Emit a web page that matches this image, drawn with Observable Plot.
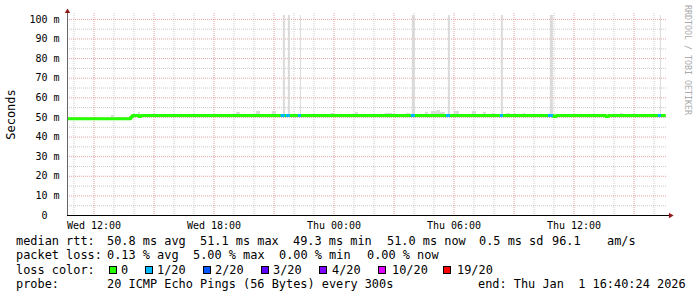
<!DOCTYPE html>
<html>
<head>
<meta charset="utf-8">
<script src="https://cdn.jsdelivr.net/npm/d3@7"></script>
<script src="https://cdn.jsdelivr.net/npm/@observablehq/plot@0.6"></script>
<style>
  html, body { margin: 0; padding: 0; background: #fff; }
  #wrap { position: relative; width: 697px; height: 297px; font-family: "DejaVu Sans Mono", monospace; color: #000; }
  #wrap svg { position: absolute; left: 0; top: 0; }
  .lg { position: absolute; white-space: pre; font-size: 11.9px; line-height: 14px; }
  .sw { position: absolute; width: 6px; height: 6px; border: 1px solid #000; }
  #credit { position: absolute; left: 683px; top: 5px; writing-mode: vertical-rl; font-size: 8.3px; line-height: 9px; color: #aaa; white-space: pre; }
</style>
</head>
<body>
<div id="wrap"></div>
<script>
// ---------------- data ----------------
const rangeStart = "2025-12-31T10:40:24Z";
const rangeEnd   = "2026-01-01T16:40:24Z";

// median RTT (ms), step change points
const medianTimes  = ["2025-12-31T10:40:24Z","2025-12-31T13:50Z","2025-12-31T13:55Z","2025-12-31T14:15Z","2025-12-31T14:21Z","2026-01-01T10:58Z","2026-01-01T11:06Z","2026-01-01T13:35Z","2026-01-01T13:43Z","2026-01-01T16:35Z"];
const medianValues = [49.3, 50.2, 51.0, 50.5, 51.0, 50.5, 51.0, 50.5, 51.0, 51.0];

// packet loss periods (count out of 20)
const lossFrom  = ["2025-12-31T21:21Z","2025-12-31T21:37Z","2025-12-31T22:13Z","2026-01-01T03:52Z","2026-01-01T05:37Z","2026-01-01T08:19Z","2026-01-01T10:43Z","2026-01-01T16:13Z"];
const lossTo    = ["2025-12-31T21:34Z","2025-12-31T21:49Z","2025-12-31T22:22Z","2026-01-01T04:04Z","2026-01-01T05:49Z","2026-01-01T08:28Z","2026-01-01T10:58Z","2026-01-01T16:22Z"];
const lossCount = [1, 1, 1, 1, 1, 1, 1, 1];

// smoke (spread of the 20 pings, ms)
const smokeFrom = ["2025-12-31T12:52Z","2025-12-31T14:13Z","2025-12-31T19:07Z","2025-12-31T20:07Z","2025-12-31T20:55Z","2025-12-31T21:28Z","2025-12-31T21:43Z","2025-12-31T22:19Z","2025-12-31T23:52Z","2026-01-01T01:04Z","2026-01-01T02:34Z","2026-01-01T03:37Z","2026-01-01T03:55Z","2026-01-01T04:34Z","2026-01-01T04:52Z","2026-01-01T05:10Z","2026-01-01T05:19Z","2026-01-01T05:43Z","2026-01-01T06:01Z","2026-01-01T06:55Z","2026-01-01T07:28Z","2026-01-01T07:55Z","2026-01-01T08:22Z","2026-01-01T08:37Z","2026-01-01T09:04Z","2026-01-01T09:28Z","2026-01-01T10:49Z","2026-01-01T14:19Z","2026-01-01T16:19Z"];
const smokeTo   = ["2025-12-31T13:01Z","2025-12-31T14:19Z","2025-12-31T19:19Z","2025-12-31T20:19Z","2025-12-31T21:07Z","2025-12-31T21:34Z","2025-12-31T21:49Z","2025-12-31T22:22Z","2026-01-01T00:01Z","2026-01-01T01:13Z","2026-01-01T02:55Z","2026-01-01T03:49Z","2026-01-01T04:04Z","2026-01-01T04:43Z","2026-01-01T05:10Z","2026-01-01T05:19Z","2026-01-01T05:34Z","2026-01-01T05:49Z","2026-01-01T06:16Z","2026-01-01T07:07Z","2026-01-01T07:37Z","2026-01-01T08:04Z","2026-01-01T08:28Z","2026-01-01T08:49Z","2026-01-01T09:07Z","2026-01-01T09:34Z","2026-01-01T10:58Z","2026-01-01T14:28Z","2026-01-01T16:22Z"];
const smokeLow  = [48.5, 50, 50, 50, 50, 50, 50, 50, 50, 50, 50, 50, 50, 50, 50, 50, 50, 50, 50, 50, 50, 50, 50, 50, 50, 50, 50, 50, 50];
const smokeHigh = [51.0, 52.5, 52.6, 53.1, 53.1, 102, 102, 102, 52.0, 52.6, 52.0, 52.0, 102, 52.6, 53.1, 53.6, 52.6, 102, 53.1, 53.1, 52.6, 52.0, 102, 52.0, 52.0, 52.0, 102, 52.0, 102];

// axes
const yTicks = [0, 10, 20, 30, 40, 50, 60, 70, 80, 90, 100];
const yTickLabels = ["0\u00a0\u00a0", "10 m", "20 m", "30 m", "40 m", "50 m", "60 m", "70 m", "80 m", "90 m", "100 m"];
const xTicks = ["2025-12-31T12:00Z", "2025-12-31T18:00Z", "2026-01-01T00:00Z", "2026-01-01T06:00Z", "2026-01-01T12:00Z"];
const xTickLabels = ["Wed 12:00", "Wed 18:00", "Thu 00:00", "Thu 06:00", "Thu 12:00"];

// legend
const lossLevels = [0, 1, 2, 3, 4, 10, 19];
const lossLabels = ["0", "1/20", "2/20", "3/20", "4/20", "10/20", "19/20"];
const lossColors = ["#26ff00", "#00b8ff", "#0059ff", "#5e00ff", "#7e00ff", "#dd00ff", "#ff0000"];
const rttLine  = ["median rtt:", "50.8 ms avg", "51.1 ms max", "49.3 ms min", "51.0 ms now", "0.5 ms sd", "96.1", "am/s"];
const lossLine = ["packet loss:", "0.13 % avg", "5.00 % max", "0.00 % min", "0.00 % now"];
const probeLine = ["probe:", "20 ICMP Echo Pings (56 Bytes) every 300s", "end: Thu Jan  1 16:40:24 2026"];

// ---------------- build ----------------
const D = s => new Date(s);
const t0 = D(rangeStart), t1 = D(rangeEnd);
const median = medianTimes.map((t, i) => ({t: D(t), v: medianValues[i]}));
const medAt = d => median[Math.max(0, d3.bisector(m => m.t).right(median, d) - 1)].v;
const loss = lossFrom.map((f, i) => ({from: D(f), to: D(lossTo[i]), n: lossCount[i]}));
loss.forEach(l => l.v = medAt(l.from));
const smoke = smokeFrom.map((f, i) => ({from: D(f), to: D(smokeTo[i]), lo: smokeLow[i], hi: smokeHigh[i]}));
const colorOf = n => lossColors[lossLevels.indexOf(n)];

const hours = d3.utcHour.range(d3.utcHour.ceil(t0), t1);
const majorX = hours.filter(h => h.getUTCHours() % 3 === 0);
const minorX = hours.filter(h => h.getUTCHours() % 3 !== 0);
const majorY = yTicks;
const minorY = yTicks.slice(0, -1).map(v => v + 5);
const xLab = new Map(xTicks.map((t, i) => [+D(t), xTickLabels[i]]));
const yLab = new Map(yTicks.map((v, i) => [v, yTickLabels[i]]));

const chart = Plot.plot({
  width: 697, height: 233,
  marginLeft: 67, marginRight: 30, marginTop: 13, marginBottom: 18,
  x: {type: "utc", domain: [t0, t1]},
  y: {domain: [0, 103]},
  style: {fontFamily: "DejaVu Sans Mono", fontSize: "10px", background: "transparent", color: "#000", overflow: "visible"},
  marks: [
    Plot.ruleY(minorY, {stroke: "#cacaca", strokeDasharray: "1,1"}),
    Plot.ruleX(minorX, {stroke: "#cacaca", strokeDasharray: "1,1", insetBottom: -2}),
    Plot.ruleY(majorY.filter(v => v > 0), {stroke: "#e8a2a2", strokeDasharray: "1,1"}),
    Plot.ruleX(majorX, {stroke: "#e8a2a2", strokeDasharray: "1,1", insetBottom: -2}),
    Plot.rect(smoke, {x1: "from", x2: "to", y1: "lo", y2: "hi", fill: "#dadada", clip: true}),
    Plot.line(median, {x: "t", y: "v", curve: "step-after", stroke: lossColors[0], strokeWidth: 3, strokeLinecap: "butt"}),
    Plot.ruleY(loss, {x1: "from", x2: "to", y: "v", stroke: d => colorOf(d.n), strokeWidth: 3}),
    Plot.ruleX([t0], {stroke: "#666", insetTop: -1}),
    Plot.ruleY([0], {stroke: "#000", insetRight: -2}),
    Plot.dot([t0], {x: d => d, y: () => 103, symbol: "triangle", r: 2, fill: "#8e1a1a", stroke: null, dy: -2}),
    Plot.dot([t1], {x: d => d, y: () => 0, symbol: "triangle", r: 2, fill: "#8e1a1a", stroke: null, rotate: 90, dx: 3}),
    Plot.axisY({ticks: yTicks, tickFormat: d => yLab.get(d), tickSize: 0, tickPadding: 8, label: null}),
    Plot.axisX({ticks: xTicks.map(D), tickFormat: d => xLab.get(+d), tickSize: 0, tickPadding: 6, label: null}),
    Plot.text(["Seconds"], {frameAnchor: "left", rotate: -90, dx: -56, fontSize: 12, textAnchor: "middle"})
  ]
});

const wrap = document.getElementById("wrap");
wrap.appendChild(chart);

function put(text, x, baseline) {
  const s = document.createElement("span");
  s.className = "lg";
  s.textContent = text;
  s.style.left = x + "px";
  s.style.top = (baseline - 11.1) + "px";
  wrap.appendChild(s);
}
const rttX = [16, 107, 200, 293, 387, 479, 552, 607];
rttLine.forEach((t, i) => put(t, rttX[i], 245));
const lossX = [16, 107, 193, 279, 367];
lossLine.forEach((t, i) => put(t, lossX[i], 259.5));
put("loss color:", 16, 274);
const swX = [109, 145, 203, 261, 319, 378, 443];
const swLabX = [121, 157, 215, 273, 332, 392, 457];
lossLabels.forEach((t, i) => {
  const b = document.createElement("div");
  b.className = "sw";
  b.style.left = swX[i] + "px";
  b.style.top = "266px";
  b.style.background = lossColors[i];
  wrap.appendChild(b);
  put(t, swLabX[i], 274);
});
const probeX = [16, 107, 478];
probeLine.forEach((t, i) => put(t, probeX[i], 288.5));

const credit = document.createElement("div");
credit.id = "credit";
credit.textContent = "RRDTOOL / TOBI OETIKER";
wrap.appendChild(credit);
</script>
</body>
</html>
